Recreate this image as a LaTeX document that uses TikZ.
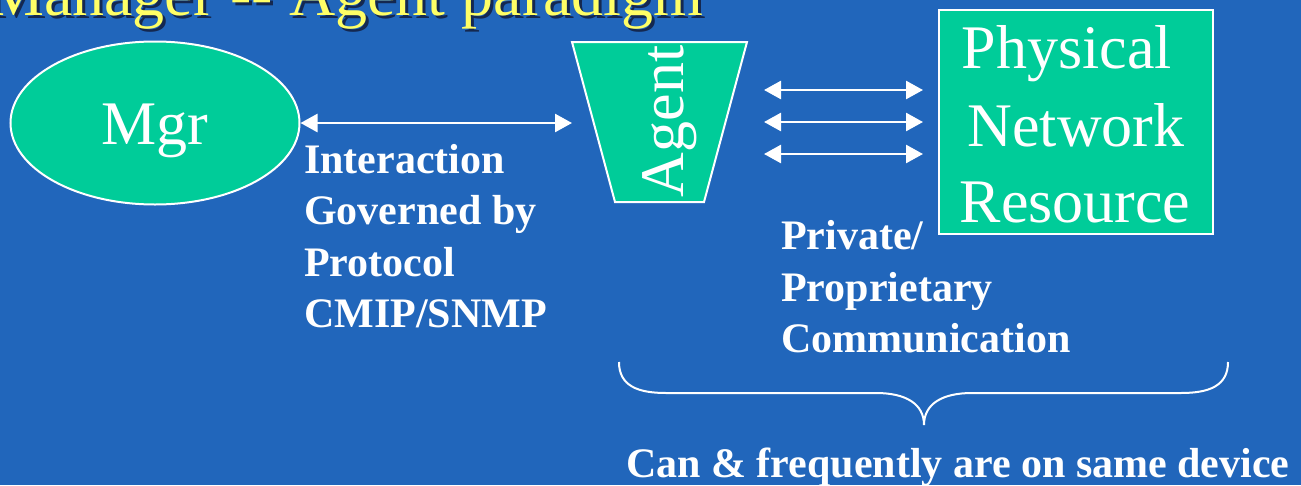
\documentclass[tikz,border=0pt]{standalone}
\usepackage{fontspec}
\setmainfont{Liberation Serif}
\usetikzlibrary{shapes.geometric,arrows.meta}

\definecolor{slidebg}{RGB}{33,102,187}
\definecolor{boxgreen}{RGB}{0,204,153}
\definecolor{titleyellow}{RGB}{255,255,102}
\definecolor{titleshadow}{RGB}{20,40,80}

\tikzset{
  bigtext/.style={font=\fontsize{62}{76}\selectfont, text=white, inner sep=0pt},
  labeltext/.style={font=\bfseries\fontsize{42}{51}\selectfont, text=white, inner sep=0pt, anchor=base west},
  titletext/.style={font=\fontsize{64}{76}\selectfont, inner sep=0pt, anchor=base west},
  greenshape/.style={fill=boxgreen, draw=white, line width=2pt, inner sep=0pt},
  twoway/.style={draw=white, line width=2.6pt,
    {Triangle[length=17pt,width=18pt]}-{Triangle[length=17pt,width=18pt]}},
  bracepath/.style={draw=white, line width=2pt}
}

\begin{document}
\begin{tikzpicture}[x=1pt,y=-1pt]
  \useasboundingbox (0,0) rectangle (1301,485);
  \fill[slidebg] (0,0) rectangle (1301,485);

  % title with drop shadow
  \node[titletext, text=titleshadow] at (-10,18) {Manager \mbox{-}\mbox{-} Agent paradigm};
  \node[titletext, text=titleyellow] (title) at (-13,15) {Manager \mbox{-}\mbox{-} Agent paradigm};

  % manager
  \node[greenshape, ellipse, minimum width=289pt, minimum height=163pt] (mgr) at (155,123) {};
  \node[bigtext, anchor=base] (mgrtext) at (155,144) {Mgr};

  % agent: inverted trapezoid
  \coordinate (atl) at (572,42);
  \coordinate (atr) at (747,42);
  \coordinate (abr) at (704,202);
  \coordinate (abl) at (615,202);
  \draw[greenshape] (atl) -- (atr) -- (abr) -- (abl) -- cycle;
  \node[bigtext, anchor=base, rotate=90] (agenttext) at (683,121.5) {Agent};

  % physical network resource
  \node[greenshape, line width=2.4pt, minimum width=274pt, minimum height=224pt] (res) at (1076,122) {};
  \node[bigtext, anchor=base] (res1) at (1067,68) {Physical};
  \node[bigtext, anchor=base] (res2) at (1076,146) {Network};
  \node[bigtext, anchor=base] (res3) at (1075,222) {Resource};

  % connectors
  \coordinate (agentin) at (572,123);
  \draw[twoway] (mgr.east) -- (agentin);

  \coordinate (l1) at (764,90);   \coordinate (r1) at (923,90);
  \coordinate (l2) at (764,122);  \coordinate (r2) at (923,122);
  \coordinate (l3) at (764,154);  \coordinate (r3) at (923,154);
  \draw[twoway] (l1) -- (r1);
  \draw[twoway] (l2) -- (r2);
  \draw[twoway] (l3) -- (r3);

  % labels
  \node[labeltext] (p1) at (304,173) {Interaction};
  \node[labeltext] (p2) at (304,224) {Governed by};
  \node[labeltext] (p3) at (304,276) {Protocol};
  \node[labeltext] (p4) at (304,327) {CMIP/SNMP};

  \node[labeltext] (c1) at (781,249) {Private/};
  \node[labeltext] (c2) at (781,301) {Proprietary};
  \node[labeltext] (c3) at (781,352) {Communication};

  % brace
  \coordinate (bl) at (619,362);
  \coordinate (bt) at (924,425);
  \coordinate (br) at (1228,362);
  \draw[bracepath] (bl) .. controls (619,386) and (638,393) .. (666,393)
    -- (876,393) .. controls (906,393) and (924,404) .. (bt)
    .. controls (924,404) and (942,393) .. (972,393)
    -- (1181,393) .. controls (1209,393) and (1228,386) .. (br);

  \node[labeltext] (same) at (626,477) {Can \& frequently are on same device};
\end{tikzpicture}
\end{document}
